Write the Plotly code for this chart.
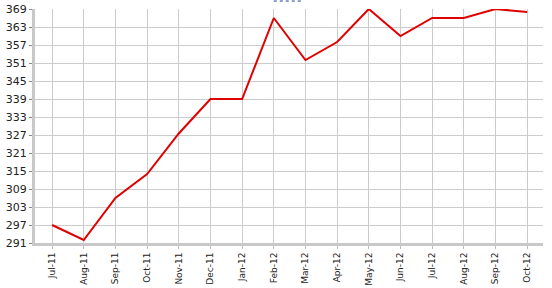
import plotly.graph_objects as go

months = ["Jul-11", "Aug-11", "Sep-11", "Oct-11", "Nov-11", "Dec-11", "Jan-12", "Feb-12",
          "Mar-12", "Apr-12", "May-12", "Jun-12", "Jul-12", "Aug-12", "Sep-12", "Oct-12"]
values = [297, 292, 306, 314, 327.5, 339, 339, 366, 352, 358, 369, 360, 366, 366, 369, 368]
y_ticks = list(range(291, 370, 6))

fig = go.Figure()
fig.add_trace(go.Scatter(x=list(range(len(months))), y=values, mode="lines",
                         line=dict(color="#e00000", width=2), cliponaxis=False))

fig.update_layout(
    width=552, height=288,
    margin=dict(l=35, r=9, t=9, b=45, autoexpand=False),
    paper_bgcolor="white", plot_bgcolor="white",
    showlegend=False,
    font=dict(family="DejaVu Sans, Verdana, sans-serif", size=11, color="#222"),
    xaxis=dict(range=[-0.54, 15.5], tickmode="array", tickvals=list(range(len(months))),
               ticktext=months, tickangle=-90, tickfont=dict(size=9), automargin=False,
               showgrid=True, gridcolor="#cccccc", gridwidth=1,
               showline=True, linecolor="#c8c8c8", linewidth=3,
               ticks="outside", ticklen=3, tickcolor="#bbbbbb", zeroline=False),
    yaxis=dict(range=[291, 369], tickmode="array", tickvals=y_ticks, automargin=False,
               showgrid=True, gridcolor="#cccccc", gridwidth=1,
               showline=True, linecolor="#c8c8c8", linewidth=3,
               ticks="outside", ticklen=3, tickcolor="#888888", zeroline=False),
)
fig.add_shape(type="line", xref="paper", yref="paper", x0=0.47, x1=0.527, y0=1.034, y1=1.034,
              line=dict(color="#1a3a9a", width=1, dash="dot"))
fig.write_html("out.html")
